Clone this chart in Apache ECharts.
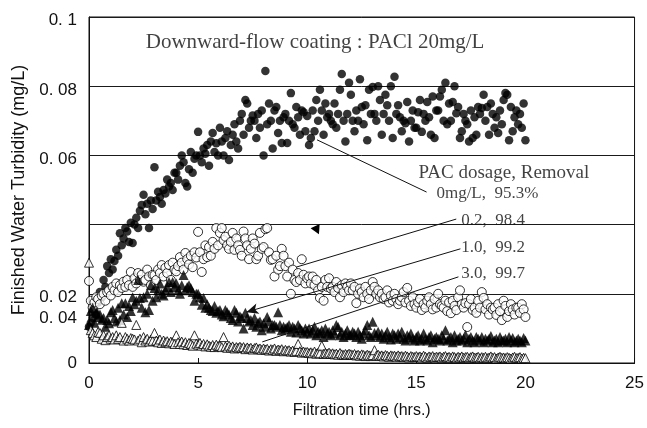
<!DOCTYPE html>
<html>
<head>
<meta charset="utf-8">
<script src="https://cdn.jsdelivr.net/npm/echarts@6/dist/echarts.min.js"></script>
<style>html,body{margin:0;padding:0;background:#fff;}#chart{width:647px;height:428px;}</style>
</head>
<body>
<div id="chart"></div>
<script>
// Sampling interval of the measurements (hours); values below are in 0.001 mg/L
const sampleIntervalHours = 5 / 60;
const turbidityUnit = 0.001;

// PAC 0 mg/L (filled circles)
const pac0 = [
10.5,11.6,13,15,14,17.5,20.5,19,24,22,28,26,
30,27,29.5,32.7,31,37.5,34,36,39,38,35,40.5,
34.7,40,42,39,44,45.7,48.6,43,46,39,47,44.5,
56.6,47,49.5,48,46,50,49,53,51,52,50,55,
55,53,57,60,58,52,51,56,61,55,59,60,
66.8,60,58,62,60.5,63,57,64,66.5,61,63.5,60,
68,64,60,65,67,58.7,63,66,69,64,62,70,
72,66,76,75,68,70,71.5,70,65,72,68,73,
60,84.4,69,75,70,62,73,74,66.5,70,63.6,71,
72,63.6,70,78,69,68,74,71,66,73,72.5,67,
71.4,63,65,73,67,76,70,79,73,66,75,71,
72,70,69,75,68,72,79,83.5,70,64,72,81,
77.5,70,67,73,70,82,74,69,74.5,64.4,79,72,
79.8,72,70,80,76,66,72,77.5,74.5,70,80,65,
82.7,72,74.5,71,67,70,69.3,75.4,64,70,73,68,
68,72.5,76,66.8,72,70,75.4,71,66,77,65,73,
73,77,79,70,81,69,75,70,75.4,80,72.2,74,
65,67,72,70,69,64,73,65,71,66,74,72,
73.7,77.5,70,74,66,75,72,68,71,66.5,73,69,
76,78,77.5,64.4,74,67,71,73,69,72,68,75,
64.4];

// PAC 0.2 mg/L (open circles)
const pac02 = [
23.7,18,16,17.5,19,18.5,17,19.5,20,18,20.5,21,
19.5,22,21,23,20.5,22.5,21.7,23.5,22,24,22.5,26.3,
22,24.5,23,26,24,25.5,23.5,24,27,25,22.5,25.5,
25.4,24,27,26,28.3,25,27.5,26,28.3,24,29,27,
26.5,28,30.6,29,27,31.8,30,28.5,31,27.7,32,30.5,
37.9,32,26.3,30,34,30.6,33.5,31,35,33,39,34,
37.6,39,35.5,36.5,34,33,35,37.6,32.7,36,34,32.7,
31,38,36,34,30,33,36,34.5,30,31,37.6,33,
33.5,38.7,39,32,29.8,30,25,31,27,28,33,31,
28,25,29,20,27,24,23.4,26,24,30,25.5,23,
24.5,25,23,25,22.5,24,21,18.8,22,18,24,22,
24.5,21.5,22,20.5,23.4,21.7,19,22.5,20.5,23,22,21,
23,21,22,17.3,20,21.5,20.5,19,22,20,18.5,21,
23.4,22,20,21,19,20,18.5,19,21,17.5,19.5,18,
20,18.5,17,18,19,20.5,17.5,21.7,18,16.5,19,17,
16,17.5,18.5,15.3,17,16,18,19,17,15.5,18.5,16,
20,17,16.5,16,18,15,17.5,14.4,18,16.5,15.3,19,
21,17,16,17.3,10.4,17,18.5,15.3,16,14.5,18,16,
20.5,18.8,15.5,17,14,16,15.5,16,13.9,17,15,12.4,
18,16.5,13.3,15,17,15.5,14,16,16,14.5,17,15.5,
13.3];

// PAC 1.0 mg/L (filled triangles)
const pac10 = [
11,15,16,11.6,14.5,13.3,14,12.5,13,10.5,12.4,11.5,
14.7,15.3,13,12,16,12.4,17.3,14,17.3,13.3,16.5,15,
19,17,18,24,18.8,16,19,14.7,20,15.3,22.5,18,
21.7,19,21,23,20,19.5,21,22,23.4,20.5,23.4,22,
23,21,20,22.5,25.4,21,22,22.5,21.7,20.5,18,20,
20,19,16.8,18.8,16,17,16,15.3,15,16.5,14.5,15,
15.3,14,13.5,15.3,14.7,14,13,12.4,15.3,14.5,12,13.5,
13,10,14.5,13,12,12.4,11,13,10.5,11.6,12,9.5,
11.5,10.5,13.3,12,10,11,11,10.5,14.7,11,9.5,10.5,
10,10.4,11,9,10.5,10,8.8,11,10.1,9.5,8.5,10,
9,10,8.5,9.5,10.5,8,9,8.7,9.5,7.5,10,8.5,
9,8,9.5,8.5,11,10.4,8,9,7.5,8.5,9.5,8,
8.1,9,8.5,7.5,9,8,7,8.5,9.5,11,8,7.5,
11.9,8.7,8,9,7.5,8.5,7,8,9,7.5,6.8,8.5,
8,7,8.5,7.5,9,7,6.5,8,7.5,8.5,7,6.5,
7.5,8,6.5,7,8.5,7,6.5,7.5,8,6,7,7.5,
7,6.5,8,7,9.5,6.5,7,7.5,6,8,6.5,7,
7.5,6.5,7,8.2,6,7,7.5,6.5,6,7.5,7,6.5,
7.5,6,7,6.5,7,7.8,6,6.5,7,6,7.5,6.5,
6.5,7,6,7.5,6.5,7.2,6,6.5,7,6.5,6,7.2,
6.5];

// PAC 3.0 mg/L (open triangles)
const pac30 = [
29,9.5,8.7,8,7.5,9,8.7,7,8,6.6,7.5,8,
7,7.5,6.8,8,7,7.5,11.6,6.5,7.5,7,6.5,7.2,
7,6.8,11,6.5,7,6,7.5,6.5,7,6.2,6.8,6.4,
8.7,6.5,6,6.8,5.8,6.5,6,6.3,5.7,6.2,6,5.5,
8,6,5.5,6.2,5.4,6,5.2,5.8,5.5,5,8,5.6,
5.3,5.8,5,5.5,4.8,5.4,5,4.7,5.2,4.6,5.3,4.9,
5,4.6,7.5,4.8,4.4,5,4.5,4.8,4.2,4.6,4.4,4.7,
4.3,4.6,4,4.5,4.2,4.4,3.9,4.3,4.5,4,4.2,3.8,
4.2,3.9,4.1,3.6,4,3.8,4.2,3.5,3.9,3.7,4,3.4,
3.8,3.5,3.7,3.3,3.6,3.2,3.5,5.5,3.4,3,3.3,3.1,
3.2,2.9,3.1,2.8,3.3,2.7,3,2.8,5,2.6,2.9,2.7,
3,2.6,2.8,2.5,2.7,2.4,2.9,2.5,2.3,2.6,2.4,2.7,
2.5,2.3,2.6,2.2,2.4,2.1,2.5,2.3,2,2.4,2.2,2,
2.3,3.7,2.1,2.4,2,2.2,1.9,2.3,2.1,1.8,2.2,2,
2.1,1.8,2.2,1.9,2,1.7,2.1,1.9,1.6,2,1.8,1.7,
2,1.7,1.9,1.6,2.1,1.8,1.5,1.9,1.7,2,1.6,1.8,
1.7,1.9,1.5,1.8,2,1.6,1.8,1.5,1.9,1.7,1.4,1.8,
1.6,1.9,1.5,1.7,1.8,1.4,1.7,1.9,1.5,1.6,1.8,1.4,
1.7,1.5,1.8,1.4,1.6,1.9,1.5,1.7,1.3,1.6,1.8,1.5,
1.6,1.4,1.7,1.5,1.3,1.6,1.8,1.4,1.5,1.7,1.3,1.5,
1.4];

// Axis ticks / labels (label anchor values as placed in the original figure)
const xTicks = { min: 0, max: 25, interval: 5 };
const yTicks = { min: 0, max: 0.1, interval: 0.02 };
const yLabelValues = [0, 0.0128, 0.0189, 0.0589, 0.0789, 0.0989];
const yLabelTexts  = ['0', '0. 04', '0. 02', '0. 06', '0. 08', '0. 1'];

// Annotations (data coordinates)
const titleText = 'Downward-flow coating : PACl 20mg/L';
const noteTexts = ['PAC dosage, Removal', '0mg/L,  95.3%', '0.2,  98.4', '1.0,  99.2', '3.0,  99.7'];
const noteX = [15.1, 15.92, 17.06, 17.06, 17.06];
const noteY = [0.0549, 0.0491, 0.0413, 0.0335, 0.026];
const leaderStart = [[10.45, 0.0645], [9.49, 0.0277], [7.21, 0.0147], [7.94, 0.0061]];
const leaderEnd   = [[15.47, 0.0494], [16.83, 0.0416], [17.02, 0.033], [16.93, 0.0249]];
const strayArrow = [10.45, 0.0384];

function toPoints(arr) {
  return arr.map((v, i) => [i * sampleIntervalHours, v * turbidityUnit]);
}

const chart = echarts.init(document.getElementById('chart'), null, { renderer: 'canvas' });
const sans = 'Liberation Sans, Arial, sans-serif';
const serif = 'Liberation Serif, Times New Roman, serif';

const option = {
  animation: false,
  backgroundColor: '#fff',
  grid: { left: 89, right: 10, top: 17, bottom: 65, show: true, borderColor: '#111', borderWidth: 1, backgroundColor: 'transparent' },
  xAxis: {
    type: 'value', min: xTicks.min, max: xTicks.max, interval: xTicks.interval,
    name: 'Filtration time (hrs.)', nameLocation: 'middle', nameGap: 40,
    nameTextStyle: { fontFamily: sans, fontSize: 16, color: '#111' },
    axisLine: { lineStyle: { color: '#111', width: 1 } },
    axisTick: { show: true, inside: true, length: 5, lineStyle: { color: '#111' } },
    axisLabel: { fontFamily: sans, fontSize: 17, color: '#111', margin: 12 },
    splitLine: { show: false }
  },
  yAxis: [{
    type: 'value', min: yTicks.min, max: yTicks.max, interval: yTicks.interval,
    name: 'Finished Water Turbidity (mg/L)', nameLocation: 'middle', nameGap: 61,
    nameTextStyle: { fontFamily: sans, fontSize: 18, color: '#111' },
    axisLine: { show: true, lineStyle: { color: '#111', width: 1 } },
    axisTick: { show: false },
    axisLabel: { show: false },
    splitLine: { show: true, lineStyle: { color: '#1a1a1a', width: 1 } }
  }, {
    type: 'value', min: yTicks.min, max: yTicks.max, position: 'left',
    axisLine: { show: false }, axisTick: { show: false }, splitLine: { show: false },
    axisLabel: {
      fontFamily: sans, fontSize: 17, color: '#111', margin: 12,
      customValues: yLabelValues,
      formatter: (v) => {
        const i = yLabelValues.findIndex(u => Math.abs(u - v) < 1e-9);
        return i >= 0 ? yLabelTexts[i] : '';
      }
    }
  }],
  series: [
    {
      name: '0mg/L', type: 'scatter', data: toPoints(pac0), symbol: 'circle', symbolSize: 8.5,
      itemStyle: { color: '#000' }, silent: true,
      markLine: {
        silent: true, symbol: ['none', 'none'], label: { show: false },
        lineStyle: { color: '#111', width: 1, type: 'solid' },
        data: [
          [{ coord: leaderStart[0] }, { coord: leaderEnd[0] }],
          [{ coord: leaderStart[1] }, { coord: leaderEnd[1] }],
          [{ coord: leaderStart[2], symbol: 'arrow', symbolSize: [8, 12] }, { coord: leaderEnd[2] }],
          [{ coord: leaderStart[3] }, { coord: leaderEnd[3] }]
        ]
      },
      markPoint: {
        silent: true,
        data: [{ coord: strayArrow, symbol: 'triangle', symbolSize: [10, 9], symbolRotate: 205, itemStyle: { color: '#000' }, label: { show: false } }]
      }
    },
    {
      name: '0.2', type: 'scatter', data: toPoints(pac02), symbol: 'circle', symbolSize: 9,
      itemStyle: { color: '#fff', borderColor: '#000', borderWidth: 1 }, silent: true
    },
    {
      name: '1.0', type: 'scatter', data: toPoints(pac10), symbol: 'triangle', symbolSize: 10,
      itemStyle: { color: '#000' }, silent: true
    },
    {
      name: '3.0', type: 'scatter', data: toPoints(pac30), symbol: 'triangle', symbolSize: 9,
      itemStyle: { color: '#fff', borderColor: '#000', borderWidth: 1 }, silent: true
    },
    {
      name: 'notes', type: 'scatter', symbolSize: 0, silent: true, z: 10,
      data: [{ name: titleText, value: [2.6, 0.0925], label: { fontSize: 21 } }]
        .concat(noteTexts.map((t, i) => ({ name: t, value: [noteX[i], noteY[i]], label: { fontSize: i === 0 ? 19 : 17 } }))),
      label: { show: true, position: 'right', distance: 0, formatter: p => p.name, fontFamily: serif, color: '#111', verticalAlign: 'middle' }
    }
  ]
};
chart.setOption(option);
</script>
</body>
</html>
